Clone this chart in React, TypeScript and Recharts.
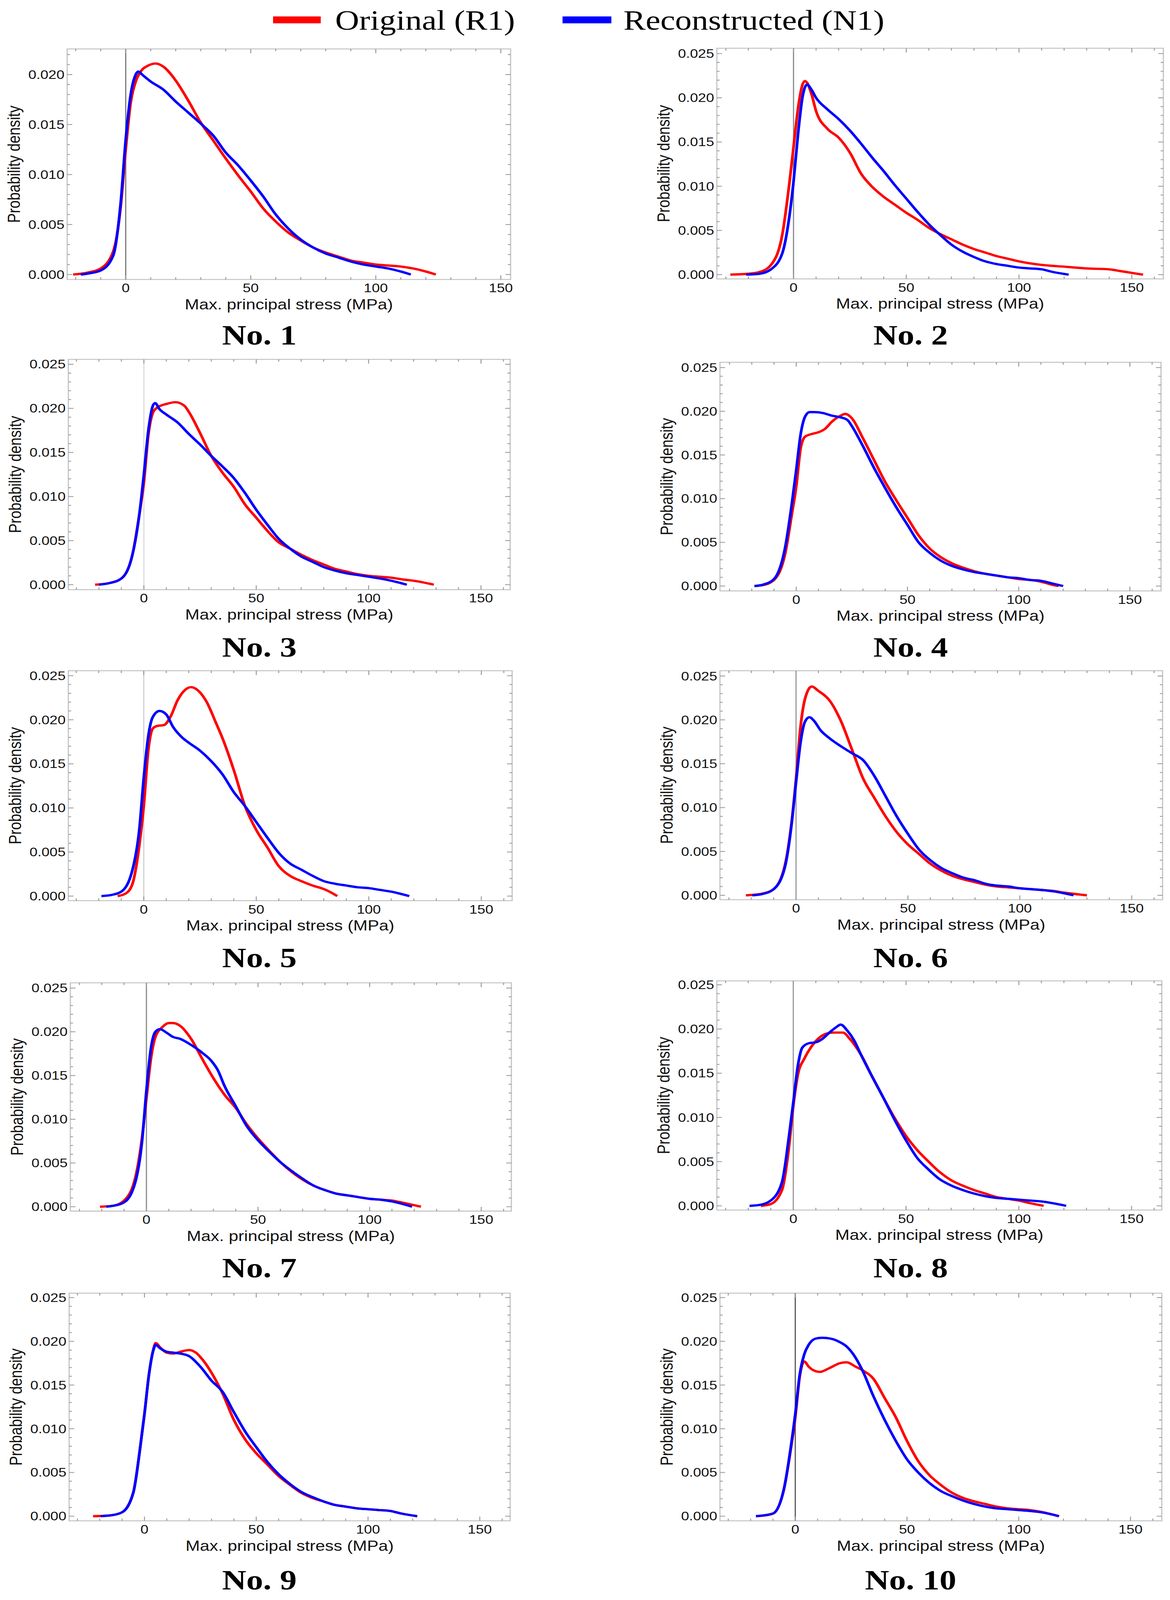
import React from 'react';
import { LineChart, Line, XAxis, YAxis, ReferenceLine, ReferenceArea } from 'recharts';

type Pt = [number, number];

// ---------- data (x: MPa, y: probability density) ----------
const P1_ORIGINAL: Pt[] = [[-21,0],[-15,0.0002],[-10,0.0006],[-5,0.0023],[-2,0.0068],[0,0.0125],[2,0.0172],[4,0.0193],[6,0.0203],[9,0.0209],[12,0.0211],[15,0.0208],[20,0.0194],[25,0.0174],[30,0.0152],[35,0.0134],[40,0.0116],[45,0.0099],[50,0.0083],[55,0.0066],[60,0.0053],[65,0.0042],[70,0.0034],[75,0.0027],[80,0.0022],[85,0.0018],[90,0.0014],[95,0.0012],[100,0.001],[105,0.0009],[110,0.0008],[115,0.0006],[120,0.0003],[124,0]];
const P1_RECON: Pt[] = [[-18,0],[-15,0.0001],[-10,0.0004],[-5,0.0019],[-2,0.0072],[0,0.0135],[2,0.018],[4,0.02],[5,0.0203],[7,0.0199],[10,0.0193],[15,0.0185],[20,0.0173],[25,0.0162],[30,0.0151],[35,0.0139],[40,0.0122],[45,0.0109],[50,0.0094],[55,0.0078],[60,0.006],[65,0.0046],[70,0.0035],[75,0.0027],[80,0.0021],[85,0.0017],[90,0.0013],[95,0.001],[100,0.0008],[105,0.0006],[110,0.0003],[114,0]];

const P2_ORIGINAL: Pt[] = [[-28,0],[-20,0.0001],[-15,0.0003],[-10,0.0011],[-5,0.0045],[-2,0.01],[0,0.0144],[2,0.0188],[4,0.0215],[5,0.0219],[6,0.0217],[8,0.0204],[10,0.0185],[15,0.0165],[20,0.0155],[25,0.0138],[30,0.0114],[35,0.0099],[40,0.0088],[45,0.0079],[50,0.007],[55,0.0062],[60,0.0053],[65,0.0046],[70,0.004],[75,0.0034],[80,0.0029],[85,0.0025],[90,0.0021],[95,0.0018],[100,0.0015],[110,0.0011],[120,0.0009],[130,0.0007],[140,0.0006],[145,0.0004],[150,0.0002],[155,0]];
const P2_RECON: Pt[] = [[-21,0],[-15,0.0001],[-10,0.0006],[-5,0.0024],[-2,0.0063],[0,0.0105],[2,0.0159],[4,0.0201],[6,0.0215],[8,0.0209],[10,0.02],[15,0.0187],[20,0.0176],[25,0.0163],[30,0.0148],[35,0.0132],[40,0.0117],[45,0.0101],[50,0.0086],[55,0.0071],[60,0.0057],[65,0.0045],[70,0.0034],[75,0.0026],[80,0.002],[85,0.0015],[90,0.0012],[95,0.001],[100,0.0008],[105,0.0007],[110,0.0006],[115,0.0003],[122,0]];

const P3_ORIGINAL: Pt[] = [[-21.7,0],[-15,0.0002],[-10,0.0007],[-5,0.0035],[-2,0.008],[0,0.0116],[2,0.017],[4,0.0195],[6,0.0201],[10,0.0205],[14,0.0207],[18,0.0203],[20,0.0196],[25,0.0172],[30,0.0146],[35,0.0127],[40,0.0111],[45,0.0091],[50,0.0076],[55,0.0061],[60,0.0048],[65,0.0041],[70,0.0034],[75,0.0028],[80,0.0023],[85,0.0018],[90,0.0015],[95,0.0012],[100,0.001],[105,0.0009],[110,0.0008],[115,0.0006],[120,0.00045],[129,0]];
const P3_RECON: Pt[] = [[-20,0],[-15,0.0002],[-10,0.0007],[-5,0.0035],[-2,0.008],[0,0.0125],[2,0.0175],[4,0.0203],[5,0.0206],[7,0.0199],[10,0.0193],[15,0.0184],[20,0.0171],[25,0.0159],[30,0.0146],[35,0.0134],[40,0.0121],[45,0.0104],[50,0.0085],[55,0.0068],[60,0.0052],[65,0.0041],[70,0.0032],[75,0.0026],[80,0.002],[85,0.0016],[90,0.0013],[95,0.0011],[100,0.0009],[105,0.0007],[110,0.00045],[117,0]];

const P4_ORIGINAL: Pt[] = [[-18.8,0],[-15,0.0001],[-10,0.0007],[-5,0.0037],[-2,0.0082],[0,0.0114],[2,0.0158],[4,0.0171],[7,0.0174],[10,0.0176],[13,0.018],[16,0.0188],[20,0.0195],[22,0.0197],[25,0.0192],[30,0.0169],[35,0.0144],[40,0.0119],[45,0.0098],[50,0.0078],[55,0.0058],[60,0.0043],[65,0.0033],[70,0.0026],[75,0.0021],[80,0.0017],[85,0.0014],[90,0.0012],[95,0.001],[100,0.0008],[105,0.0007],[110,0.0005],[115,0.00015],[118,0]];
const P4_RECON: Pt[] = [[-18.8,0],[-15,0.00015],[-10,0.0008],[-5,0.0044],[-2,0.0094],[0,0.0133],[2,0.0174],[4,0.0194],[6,0.0199],[8,0.0199],[12,0.0198],[16,0.0195],[20,0.0193],[23,0.019],[25,0.0183],[30,0.016],[35,0.0135],[40,0.0112],[45,0.009],[50,0.007],[55,0.005],[60,0.0038],[65,0.0029],[70,0.0023],[75,0.0019],[80,0.0016],[85,0.0014],[90,0.0012],[95,0.001],[100,0.0009],[105,0.0007],[110,0.0006],[115,0.0003],[120,0]];

const P5_ORIGINAL: Pt[] = [[-11.6,0],[-8,0.0003],[-5,0.0014],[-2,0.0057],[0,0.0102],[2,0.0165],[4,0.019],[6,0.0193],[9,0.0194],[12,0.0204],[15,0.0222],[18,0.0233],[21,0.0237],[25,0.0231],[28,0.022],[32,0.0197],[35,0.0179],[40,0.0143],[45,0.0102],[50,0.0075],[55,0.0055],[60,0.0034],[65,0.0023],[70,0.0017],[75,0.0012],[80,0.0008],[84,0.0003],[86,0]];
const P5_RECON: Pt[] = [[-18.8,0],[-15,0.0001],[-10,0.0005],[-5,0.003],[-2,0.0075],[0,0.0134],[2,0.0181],[4,0.0203],[7,0.021],[10,0.0206],[13,0.0192],[17,0.018],[20,0.0174],[25,0.0165],[30,0.0153],[35,0.0138],[40,0.0118],[45,0.0102],[50,0.0084],[55,0.0066],[60,0.0049],[65,0.0037],[70,0.003],[75,0.0023],[80,0.0017],[85,0.0014],[90,0.0012],[95,0.001],[100,0.0009],[105,0.0007],[110,0.0005],[118,0]];

const P6_ORIGINAL: Pt[] = [[-22.4,0],[-15,0.0002],[-10,0.0007],[-5,0.0034],[-2,0.0083],[0,0.0133],[2,0.0192],[4,0.0224],[7,0.0238],[10,0.0233],[15,0.0222],[20,0.0199],[25,0.0166],[30,0.0133],[35,0.0111],[40,0.009],[45,0.0072],[50,0.0058],[55,0.0047],[60,0.0036],[65,0.0028],[70,0.0022],[75,0.0018],[80,0.0015],[85,0.0012],[90,0.001],[95,0.0009],[100,0.0008],[105,0.0007],[110,0.0006],[115,0.0005],[120,0.0003],[130,0]];
const P6_RECON: Pt[] = [[-19.5,0],[-15,0.00015],[-10,0.0007],[-5,0.0032],[-2,0.0081],[0,0.0129],[2,0.0174],[4,0.0198],[6,0.0203],[8,0.0199],[11,0.0188],[15,0.0179],[20,0.017],[25,0.0162],[30,0.0154],[35,0.0136],[40,0.0113],[45,0.009],[50,0.007],[55,0.0052],[60,0.004],[65,0.0031],[70,0.0025],[75,0.002],[80,0.0017],[85,0.0013],[90,0.0011],[95,0.001],[100,0.0008],[105,0.0007],[110,0.0006],[115,0.00045],[124,0]];

const P7_ORIGINAL: Pt[] = [[-20.8,0],[-15,0.0001],[-10,0.0007],[-5,0.0033],[-2,0.0078],[0,0.0124],[2,0.0169],[4,0.0194],[7,0.0205],[10,0.021],[12,0.021],[15,0.0207],[20,0.0192],[25,0.0169],[30,0.0147],[35,0.0128],[40,0.0113],[45,0.0094],[50,0.0078],[55,0.0064],[60,0.0051],[65,0.004],[70,0.0031],[75,0.0024],[80,0.0019],[85,0.0015],[90,0.0013],[95,0.0011],[100,0.0009],[105,0.0008],[110,0.0007],[115,0.00045],[123,0]];
const P7_RECON: Pt[] = [[-18,0],[-15,0.0001],[-10,0.0005],[-5,0.0028],[-2,0.0074],[0,0.0133],[2,0.0181],[4,0.02],[6,0.0203],[9,0.0199],[12,0.0194],[15,0.0192],[20,0.0185],[25,0.0176],[29,0.0167],[32,0.0156],[35,0.0138],[40,0.0115],[45,0.0092],[50,0.0076],[55,0.0063],[60,0.0051],[65,0.0041],[70,0.0032],[75,0.0024],[80,0.0019],[85,0.0015],[90,0.0013],[95,0.0011],[100,0.0009],[105,0.0008],[110,0.0006],[119,0]];

const P8_ORIGINAL: Pt[] = [[-14.4,0],[-10,0.0002],[-5,0.0018],[-2,0.0065],[0,0.0113],[2,0.0148],[5,0.0167],[8,0.018],[11,0.0189],[15,0.0195],[18,0.0196],[22,0.0196],[25,0.0189],[30,0.0171],[35,0.0146],[40,0.0122],[45,0.0099],[50,0.0079],[55,0.0063],[60,0.005],[65,0.0038],[70,0.0029],[75,0.0023],[80,0.0018],[85,0.0014],[90,0.001],[95,0.0008],[100,0.0006],[105,0.0003],[111,0]];
const P8_RECON: Pt[] = [[-19.4,0],[-15,0.0001],[-10,0.0006],[-5,0.0027],[-2,0.0077],[0,0.0117],[2,0.0158],[4,0.0179],[7,0.0184],[10,0.0185],[13,0.0189],[16,0.0196],[19,0.0202],[21,0.0205],[24,0.0198],[27,0.0187],[30,0.0171],[35,0.0146],[40,0.0122],[45,0.0097],[50,0.0074],[55,0.0054],[60,0.0041],[65,0.003],[70,0.0023],[75,0.0018],[80,0.0014],[85,0.0011],[90,0.0009],[95,0.0008],[100,0.0007],[105,0.0006],[110,0.0005],[115,0.0003],[121,0]];

const P9_ORIGINAL: Pt[] = [[-23,0],[-15,0.0001],[-10,0.00045],[-5,0.0027],[-2,0.0077],[0,0.0117],[2,0.0162],[4,0.0191],[5,0.0198],[7,0.0193],[10,0.0187],[13,0.0186],[16,0.0188],[20,0.019],[23,0.0187],[26,0.0179],[30,0.0164],[35,0.014],[40,0.011],[45,0.0088],[50,0.0072],[55,0.0059],[60,0.0046],[65,0.0036],[70,0.0027],[75,0.0021],[80,0.0017],[85,0.0013],[90,0.0011],[95,0.0009],[100,0.0008],[105,0.0007],[110,0.0006],[115,0.0003],[122,0]];
const P9_RECON: Pt[] = [[-19.6,0],[-15,0.0001],[-10,0.00045],[-5,0.0027],[-2,0.0077],[0,0.0117],[2,0.0162],[4,0.019],[5,0.0196],[7,0.0192],[10,0.0188],[13,0.0187],[16,0.0186],[20,0.0183],[25,0.0171],[30,0.0155],[35,0.0142],[40,0.0119],[45,0.0097],[50,0.0079],[55,0.0062],[60,0.0048],[65,0.0037],[70,0.0028],[75,0.0022],[80,0.0017],[85,0.0013],[90,0.0011],[95,0.0009],[100,0.0008],[105,0.0007],[110,0.0006],[115,0.0003],[122,0]];

const P10_ORIGINAL: Pt[] = [[-17.6,0],[-15,0.00005],[-10,0.0003],[-5,0.0032],[-2,0.0077],[0,0.0113],[2,0.016],[4,0.0177],[6,0.0171],[8,0.0167],[11,0.0165],[15,0.0169],[20,0.0175],[23,0.0176],[27,0.0171],[30,0.0167],[35,0.0157],[40,0.0135],[45,0.0113],[50,0.0086],[55,0.0063],[60,0.0047],[65,0.0036],[70,0.0027],[75,0.0021],[80,0.0017],[85,0.0014],[90,0.0011],[95,0.0009],[100,0.0008],[105,0.0007],[110,0.0005],[115,0.0002],[118,0]];
const P10_RECON: Pt[] = [[-17.6,0],[-10,0.0003],[-5,0.0032],[-2,0.0079],[0,0.0117],[2,0.0162],[4,0.0185],[6,0.0196],[9,0.0203],[12,0.0204],[16,0.0203],[20,0.0199],[23,0.0194],[26,0.0185],[30,0.0167],[35,0.0137],[40,0.011],[45,0.0086],[50,0.0065],[55,0.005],[60,0.0038],[65,0.0029],[70,0.0023],[75,0.0018],[80,0.0014],[85,0.0011],[90,0.0009],[95,0.0008],[100,0.0007],[105,0.0006],[110,0.00045],[118,0]];

const PANEL_LABELS = ['No. 1', 'No. 2', 'No. 3', 'No. 4', 'No. 5', 'No. 6', 'No. 7', 'No. 8', 'No. 9', 'No. 10'];
const LEGEND_LABELS = ['Original (R1)', 'Reconstructed (N1)'];
const X_TITLE = 'Max. principal stress (MPa)';
const Y_TITLE = 'Probability density';
const X_TICKS = [-30, -20, -10, 0, 10, 20, 30, 40, 50, 60, 70, 80, 90, 100, 110, 120, 130, 140, 150, 160];
const X_MAJOR = [0, 50, 100, 150];
const Y_TICKS = [0, 0.001, 0.002, 0.003, 0.004, 0.005, 0.006, 0.007, 0.008, 0.009, 0.01, 0.011, 0.012, 0.013, 0.014, 0.015, 0.016, 0.017, 0.018, 0.019, 0.02, 0.021, 0.022, 0.023, 0.024, 0.025];
const Y_MAJOR = [0, 0.005, 0.01, 0.015, 0.02, 0.025];

const SERIES: [Pt[], Pt[]][] = [
  [P1_ORIGINAL, P1_RECON], [P2_ORIGINAL, P2_RECON], [P3_ORIGINAL, P3_RECON], [P4_ORIGINAL, P4_RECON],
  [P5_ORIGINAL, P5_RECON], [P6_ORIGINAL, P6_RECON], [P7_ORIGINAL, P7_RECON], [P8_ORIGINAL, P8_RECON],
  [P9_ORIGINAL, P9_RECON], [P10_ORIGINAL, P10_RECON],
];

// ---------- layout ----------
const PAGE_W = 2995;
const PAGE_H = 4871;
const PANEL_FRAMES: [number, number, number, number][] = [
  [172, 149, 1307, 851], [1835, 147, 2978, 849],
  [175, 1094, 1306, 1795], [1843, 1103, 2972, 1799],
  [175, 2042, 1311, 2742], [1843, 2042, 2976, 2739],
  [180, 2992, 1309, 3687], [1835, 2986, 2974, 3684],
  [177, 3937, 1306, 4630], [1843, 3937, 2974, 4630],
];
const PANEL_X_DOMAINS: [number, number][] = [
  [-23.4, 153.9], [-34, 164], [-33.6, 163], [-34.3, 164], [-33.5, 163.7],
  [-34, 163.8], [-34.1, 163.5], [-33.9, 163.4], [-33.7, 163.6], [-33.7, 164],
];
const PANEL_Y_DOMAINS: [number, number][] = [
  [-0.0005, 0.02256], [-0.00048, 0.0256], [-0.00056, 0.02556], [-0.00056, 0.0256], [-0.00052, 0.02556],
  [-0.0005, 0.0256], [-0.0005, 0.0256], [-0.00048, 0.02545], [-0.00053, 0.0255], [-0.00053, 0.0255],
];
const PANEL_ZERO_COLORS: (string | null)[] = ['#777', '#8a8a8a', '#dcdcdc', null, '#d0d0d0', '#999', '#8a8a8a', '#999', null, '#555'];
const LABEL_X = [664, 2331];
const LABEL_Y = [1020, 1970, 2916, 3860, 4810];

const SANS = '"Liberation Sans", Arial, Helvetica, sans-serif';
const SERIF = '"Liberation Serif", "Times New Roman", Times, serif';
const FRAME_COLOR = '#c4c4c4';
const TICK_COLOR = '#9a9a9a';
const RED = '#ff0000';
const BLUE = '#0000ff';

const LM = 240;
const TM = 20;
const RM = 20;
const BM = 120;

const near = (a: number, list: number[]) => list.some((v) => Math.abs(v - a) < 1e-9);

function Panel({ i }: { i: number }) {
  const [l, t, r, b] = PANEL_FRAMES[i];
  const xd = PANEL_X_DOMAINS[i];
  const yd = PANEL_Y_DOMAINS[i];
  const W = r - l + LM + RM;
  const H = b - t + TM + BM;
  const plotTop = TM;
  const plotBottom = H - BM;
  const plotLeft = LM;
  const plotRight = W - RM;
  const xt = X_TICKS.filter((v) => v >= xd[0] && v <= xd[1]);
  const yt = Y_TICKS.filter((v) => v >= yd[0] && v <= yd[1]);
  const red = SERIES[i][0].map(([x, y]) => ({ x, y }));
  const blue = SERIES[i][1].map(([x, y]) => ({ x, y }));
  const zero = PANEL_ZERO_COLORS[i];

  const xTick = (props: any) => {
    const { x, payload } = props;
    const v = payload.value as number;
    const major = near(v, X_MAJOR);
    const len = major ? 13 : 7;
    return (
      <g>
        <line x1={x} x2={x} y1={plotBottom} y2={plotBottom - len} stroke={TICK_COLOR} strokeWidth={2.5} />
        <line x1={x} x2={x} y1={plotTop} y2={plotTop + len} stroke={TICK_COLOR} strokeWidth={2.5} />
        {major && (
          <text x={x} y={plotBottom + 39} textAnchor="middle" fontSize={37} fontFamily={SANS} fill="#111">
            {String(v)}
          </text>
        )}
      </g>
    );
  };
  const yTick = (props: any) => {
    const { y, payload } = props;
    const v = payload.value as number;
    const major = near(v, Y_MAJOR);
    const len = major ? 13 : 7;
    return (
      <g>
        <line x1={plotLeft} x2={plotLeft + len} y1={y} y2={y} stroke={TICK_COLOR} strokeWidth={2.5} />
        <line x1={plotRight} x2={plotRight - len} y1={y} y2={y} stroke={TICK_COLOR} strokeWidth={2.5} />
        {major && (
          <text x={plotLeft - 7} y={y + 13} textAnchor="end" fontSize={37} fontFamily={SANS} fill="#111">
            {v.toFixed(3)}
          </text>
        )}
      </g>
    );
  };

  return (
    <div style={{ position: 'absolute', left: l - LM, top: t - TM, width: W, height: H }}>
      <LineChart width={W} height={H} margin={{ top: TM, right: RM, left: 0, bottom: 0 }}>
        <XAxis
          type="number"
          dataKey="x"
          domain={xd}
          allowDataOverflow
          ticks={xt}
          interval={0}
          tick={xTick}
          tickLine={false}
          tickSize={0}
          tickMargin={0}
          axisLine={false}
          height={BM}
        />
        <YAxis
          type="number"
          dataKey="y"
          domain={yd}
          allowDataOverflow
          ticks={yt}
          interval={0}
          tick={yTick}
          tickLine={false}
          tickSize={0}
          tickMargin={0}
          axisLine={false}
          width={LM}
        />
        <ReferenceArea
          x1={xd[0]}
          x2={xd[1]}
          y1={yd[0]}
          y2={yd[1]}
          fill="none"
          fillOpacity={0}
          stroke={FRAME_COLOR}
          strokeWidth={3}
          ifOverflow="visible"
        />
        {zero && <ReferenceLine x={0} stroke={zero} strokeWidth={3} ifOverflow="visible" />}
        <Line data={red} dataKey="y" type="monotone" stroke={RED} strokeWidth={7} dot={false} activeDot={false} isAnimationActive={false} />
        <Line data={blue} dataKey="y" type="monotone" stroke={BLUE} strokeWidth={7} dot={false} activeDot={false} isAnimationActive={false} />
      </LineChart>
    </div>
  );
}

function Overlay() {
  return (
    <svg
      width={PAGE_W}
      height={PAGE_H}
      style={{ position: 'absolute', left: 0, top: 0, pointerEvents: 'none' }}
    >
      <rect x={699} y={50} width={122} height={21} fill={RED} />
      <text x={858} y={90} fontSize={85} fontFamily={SERIF} fill="#000">{LEGEND_LABELS[0]}</text>
      <rect x={1440} y={50} width={125} height={21} fill={BLUE} />
      <text x={1596} y={90} fontSize={85} fontFamily={SERIF} fill="#000">{LEGEND_LABELS[1]}</text>
      {PANEL_FRAMES.map(([l, t, r, b], i) => (
        <g key={i}>
          <text x={(l + r) / 2} y={b + 91} textAnchor="middle" fontSize={44} fontFamily={SANS} fill="#111">
            {X_TITLE}
          </text>
          <text
            transform={`translate(${l - 136 + 15}, ${(t + b) / 2}) rotate(-90)`}
            textAnchor="middle"
            fontSize={44}
            fontFamily={SANS}
            fill="#111"
          >
            {Y_TITLE}
          </text>
          <text
            x={LABEL_X[i % 2]}
            y={LABEL_Y[Math.floor(i / 2)] + 29}
            textAnchor="middle"
            fontSize={86}
            fontWeight="bold"
            fontFamily={SERIF}
            fill="#000"
          >
            {PANEL_LABELS[i]}
          </text>
        </g>
      ))}
    </svg>
  );
}

export default function App() {
  const vh = typeof window !== 'undefined' && window.innerHeight > 0 ? window.innerHeight : PAGE_H;
  const vw = typeof window !== 'undefined' && window.innerWidth > 0 ? window.innerWidth : PAGE_W;
  const sy = Math.min(1, vh / PAGE_H);
  const sx = Math.min(1, vw / PAGE_W);
  return (
    <div
      style={{
        position: 'fixed',
        left: 0,
        top: 0,
        width: PAGE_W * sx,
        height: PAGE_H * sy,
        overflow: 'hidden',
        background: '#fff',
      }}
    >
      <div
        style={{
          position: 'absolute',
          left: 0,
          top: 0,
          width: PAGE_W,
          height: PAGE_H,
          transform: `scale(${sx}, ${sy})`,
          transformOrigin: '0 0',
        }}
      >
        {PANEL_FRAMES.map((_, i) => (
          <Panel key={i} i={i} />
        ))}
        <Overlay />
      </div>
    </div>
  );
}
